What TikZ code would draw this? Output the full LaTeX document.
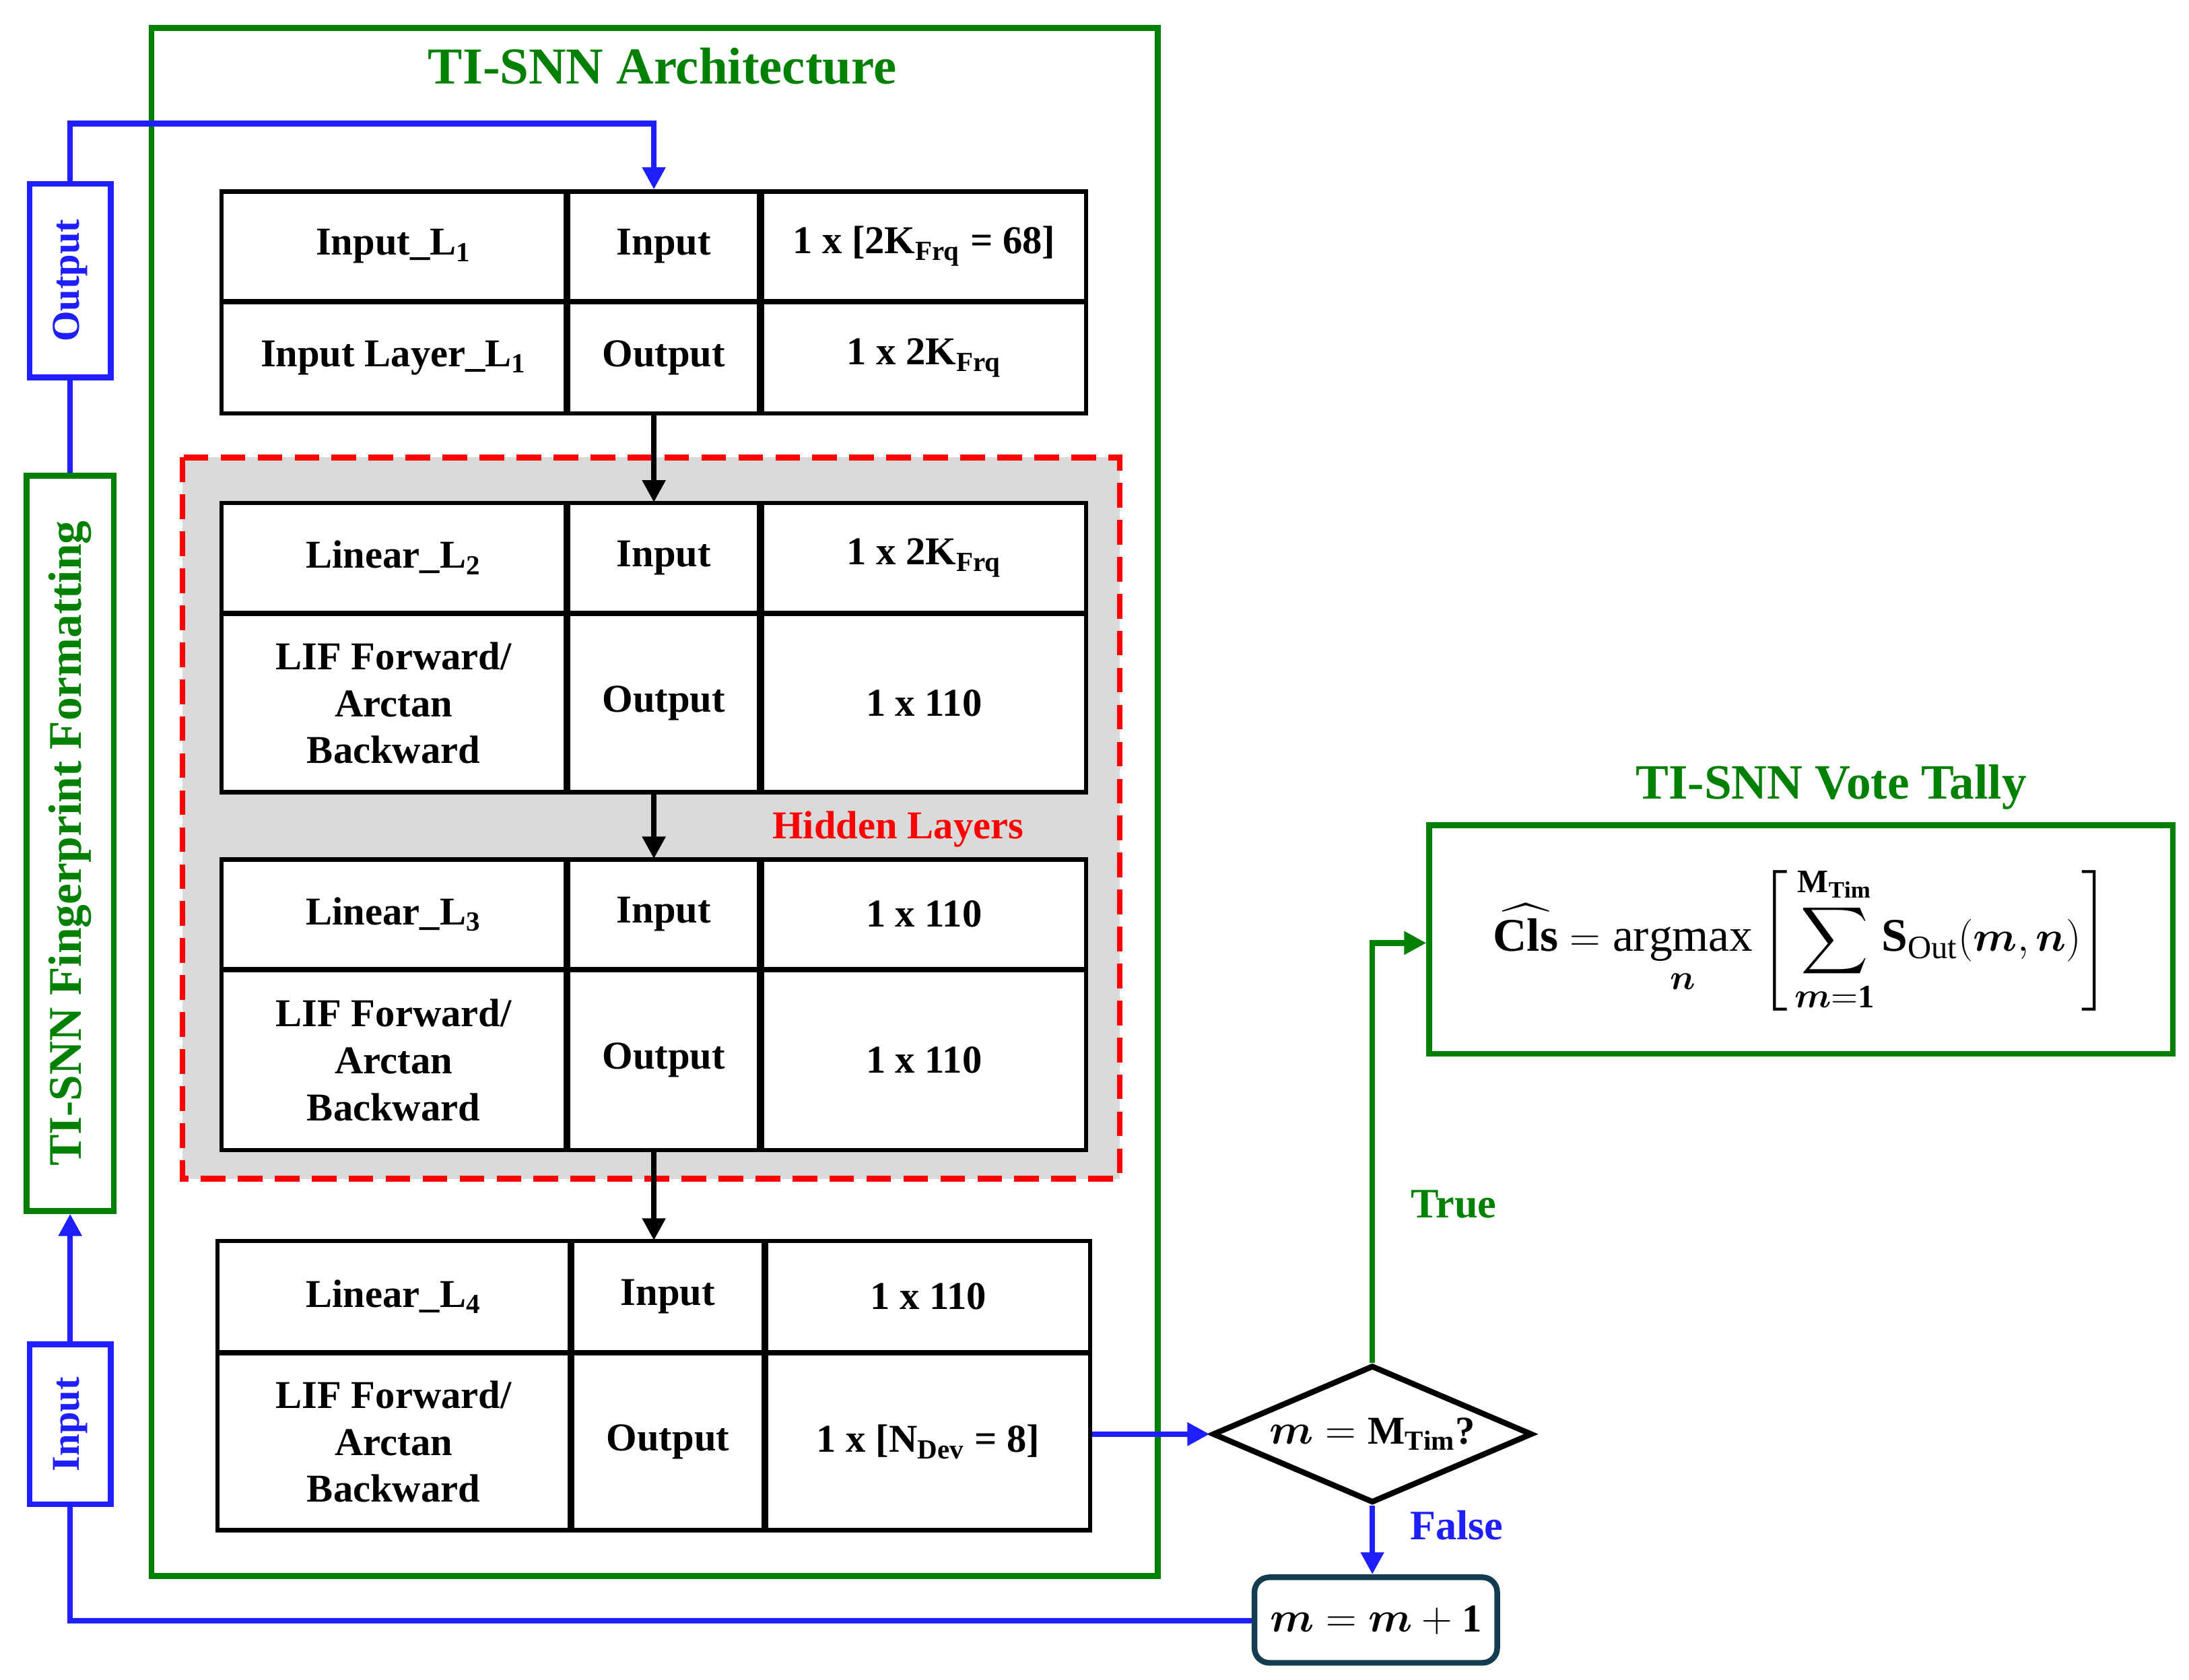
\documentclass[tikz,border=0pt]{standalone}
\usepackage{amsmath,amssymb}
\usepackage{fontspec}
\setmainfont{Liberation Serif}
\usetikzlibrary{shapes.geometric,arrows.meta}
\definecolor{gr}{RGB}{0,128,0}
\definecolor{bl}{RGB}{30,30,255}
\definecolor{rd}{RGB}{255,0,0}
\definecolor{gy}{RGB}{217,217,217}
\definecolor{tl}{RGB}{20,60,80}
\begin{document}
\begin{tikzpicture}[x=0.02cm,y=-0.02cm,
  font=\fontsize{16}{19}\selectfont\bfseries,
  cell/.style 2 args={draw=black,line width=1.7pt,minimum width=#1 cm,minimum height=#2 cm,inner sep=0pt,align=center},
  arr/.style={line width=2.3pt,-{Triangle[length=9pt,width=9pt]}},
  bline/.style={draw=bl,line width=2.3pt},
  gline/.style={draw=gr,line width=2.3pt}]
\useasboundingbox (0,0) rectangle (1560,1197);
% outer frame
\draw[draw=gr,line width=2.3pt] (108,20) rectangle (825,1123);
\node[text=gr,font=\fontsize{21}{24}\selectfont\bfseries] (arch) at (472,47) {TI-SNN Architecture};
% hidden region
\fill[gy] (130,326) rectangle (798,840);
\draw[draw=rd,line width=2.3pt,dash pattern=on 10pt off 5pt] (130,326) rectangle (798,840);
% table 1
\node[cell={4.9}{1.56}] (a11) at (280.5,175.5) {Input\_L\textsubscript{1}};
\node[cell={2.72}{1.56}] (a12) at (473,175.5) {Input};
\node[cell={4.62}{1.56}] (a13) at (658.5,175.5) {1 x [2K\textsubscript{Frq} = 68]};
\node[cell={4.9}{1.58}] (a21) at (280.5,255) {Input Layer\_L\textsubscript{1}};
\node[cell={2.72}{1.58}] (a22) at (473,255) {Output};
\node[cell={4.62}{1.58}] (a23) at (658.5,255) {1 x 2K\textsubscript{Frq}};
% table 2
\node[cell={4.9}{1.56},fill=white] (b11) at (280.5,397.5) {Linear\_L\textsubscript{2}};
\node[cell={2.72}{1.56},fill=white] (b12) at (473,397.5) {Input};
\node[cell={4.62}{1.56},fill=white] (b13) at (658.5,397.5) {1 x 2K\textsubscript{Frq}};
\node[cell={4.9}{2.54},fill=white] (b21) at (280.5,501) {LIF Forward/\\Arctan\\Backward};
\node[cell={2.72}{2.54},fill=white] (b22) at (473,501) {Output};
\node[cell={4.62}{2.54},fill=white] (b23) at (658.5,501) {1 x 110};
\node[text=rd] (hid) at (640,591) {Hidden Layers};
% table 3
\node[cell={4.9}{1.56},fill=white] (c11) at (280.5,651.5) {Linear\_L\textsubscript{3}};
\node[cell={2.72}{1.56},fill=white] (c12) at (473,651.5) {Input};
\node[cell={4.62}{1.56},fill=white] (c13) at (658.5,651.5) {1 x 110};
\node[cell={4.9}{2.56},fill=white] (c21) at (280.5,755.5) {LIF Forward/\\Arctan\\Backward};
\node[cell={2.72}{2.56},fill=white] (c22) at (473,755.5) {Output};
\node[cell={4.62}{2.56},fill=white] (c23) at (658.5,755.5) {1 x 110};
% table 4
\node[cell={5.02}{1.58}] (d11) at (280.5,924) {Linear\_L\textsubscript{4}};
\node[cell={2.72}{1.58}] (d12) at (476,924) {Input};
\node[cell={4.62}{1.58}] (d13) at (661.5,924) {1 x 110};
\node[cell={5.02}{2.52}] (d21) at (280.5,1027.5) {LIF Forward/\\Arctan\\Backward};
\node[cell={2.72}{2.52}] (d22) at (476,1027.5) {Output};
\node[cell={4.62}{2.52}] (d23) at (661.5,1027.5) {1 x [N\textsubscript{Dev} = 8]};
% black arrows
\draw[arr] (466,295) -- (466,358);
\draw[arr] (466,565) -- (466,612);
\draw[arr] (466,820) -- (466,884);
% left boxes
\node[draw=bl,line width=2.3pt,minimum width=2.76cm,minimum height=1.16cm,rotate=90,text=bl,inner sep=0pt] (out) at (50,200) {Output};
\node[draw=gr,line width=2.3pt,minimum width=10.48cm,minimum height=1.24cm,rotate=90,text=gr,inner sep=0pt,font=\fontsize{19}{22}\selectfont\bfseries] (fp) at (50,601) {TI-SNN Fingerprint Formatting};
\node[draw=bl,line width=2.3pt,minimum width=2.28cm,minimum height=1.16cm,rotate=90,text=bl,inner sep=0pt] (inp) at (50,1015) {Input};
\coordinate (c2) at (466,88);
\coordinate (c3) at (50,1155);
\draw[bline] (fp.east) -- (out.west);
\draw[bline,arr,draw=bl] (out.east) |- (c2) -- (a12.north -| c2);
\draw[bline,arr,draw=bl] (inp.east) -- (fp.west);
% decision
\node[draw=black,line width=2.3pt,diamond,aspect=2.3,minimum width=4.56cm,minimum height=1.96cm,inner sep=0pt] (dec) at (978,1022) {$\boldsymbol{m}=\mathbf{M}_{\mathbf{Tim}}$?};
\node[draw=tl,line width=2.3pt,rounded corners=6pt,minimum width=3.46cm,minimum height=1.22cm] (inc) at (980.5,1154.5) {$\boldsymbol{m}=\boldsymbol{m}+\mathbf{1}$};
\draw[bline,arr,draw=bl] (d23.east |- dec.west) -- (dec.west);
\draw[bline,arr,draw=bl] (dec.south) -- (inc.north -| dec.south);
\node[text=bl,font=\fontsize{17}{20}\selectfont\bfseries] (fl) at (1038,1087) {False};
\draw[bline] (inc.west |- c3) -- (c3) -- (inp.west);
% vote tally
\node[draw=gr,line width=2.3pt,minimum width=10.6cm,minimum height=3.26cm] (vt) at (1283.5,669.5)
 {\fontsize{19}{22}\selectfont$\displaystyle\widehat{\mathbf{Cls}}=\operatorname*{argmax}_{\boldsymbol{n}}\left[\,\sum_{\boldsymbol{m}=\mathbf{1}}^{\mathbf{M_{Tim}}}\mathbf{S}_{\mathrm{Out}}(\boldsymbol{m},\boldsymbol{n})\right]$};
\node[text=gr,font=\fontsize{20}{23}\selectfont\bfseries] (vtt) at (1305,561) {TI-SNN Vote Tally};
\draw[gline,arr,draw=gr] (dec.north) |- (vt.west |- 0,672);
\node[text=gr,font=\fontsize{17}{20}\selectfont\bfseries] (tr) at (1036,858) {True};
\end{tikzpicture}
\end{document}
